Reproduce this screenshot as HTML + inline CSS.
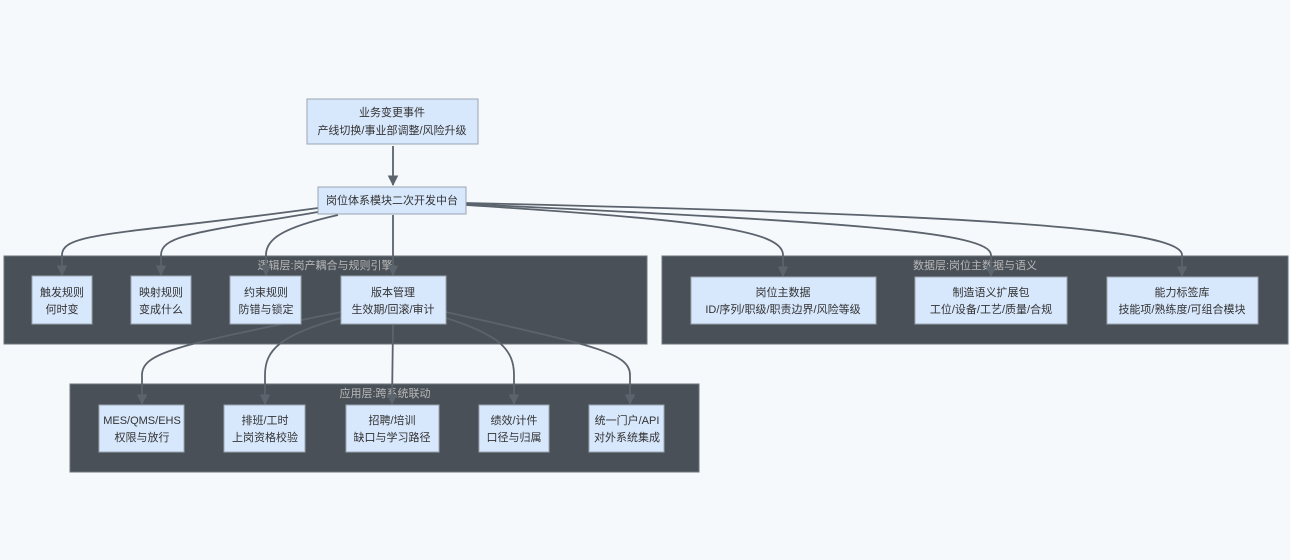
<!DOCTYPE html>
<html><head><meta charset="utf-8"><style>
html,body{margin:0;padding:0;background:#f6f9fc;}
svg{display:block;font-family:"Liberation Sans","Noto Sans CJK SC",sans-serif;}
.n{fill:#d7e7fc;stroke:#9aa6b2;stroke-width:1;}
.c{fill:#495057;stroke:#6c747c;stroke-width:1;}
.t{font-size:11px;fill:#333;text-anchor:middle;}
.ct{font-size:11px;fill:#b8b8b8;text-anchor:middle;}
.e{fill:none;stroke:#5b636d;stroke-width:1.8;}
</style></head><body>
<svg width="1290" height="560" viewBox="0 0 1290 560">
<defs><marker id="a" viewBox="0 0 10 10" refX="9" refY="5" markerWidth="6" markerHeight="6" orient="auto"><path d="M0,0L10,5L0,10z" fill="#5b636d"/></marker></defs>
<rect width="1290" height="560" fill="#f6f9fc"/>
<!-- clusters -->
<rect class="c" x="4" y="256" width="643" height="88"/>
<text class="ct" x="325" y="269">逻辑层:岗产耦合与规则引擎</text>
<rect class="c" x="662" y="256" width="626" height="88"/>
<text class="ct" x="975" y="269">数据层:岗位主数据与语义</text>
<rect class="c" x="70" y="384" width="629" height="88"/>
<text class="ct" x="385" y="397">应用层:跨系统联动</text>
<!-- edges -->
<path class="e" marker-end="url(#a)" d="M393,146 L393,185"/>
<path class="e" marker-end="url(#a)" d="M318,208 C120,235 62,232 62,255 L62,275"/>
<path class="e" marker-end="url(#a)" d="M318,212 C200,232 161,235 161,255 L161,275"/>
<path class="e" marker-end="url(#a)" d="M338,215 C280,228 266,240 266,255 L266,275"/>
<path class="e" marker-end="url(#a)" d="M393,215 L393,275"/>
<path class="e" marker-end="url(#a)" d="M466,205 C700,220 783,230 783,255 L783,276"/>
<path class="e" marker-end="url(#a)" d="M466,204 C850,222 991,232 991,255 L991,276"/>
<path class="e" marker-end="url(#a)" d="M466,203 C1000,215 1182,230 1182,255 L1182,276"/>
<path class="e" marker-end="url(#a)" d="M341,312 C180,345 142,352 142,375 L142,404"/>
<path class="e" marker-end="url(#a)" d="M341,318 C280,335 265,350 265,375 L265,404"/>
<path class="e" marker-end="url(#a)" d="M393,325 L392,404"/>
<path class="e" marker-end="url(#a)" d="M446,318 C500,335 514,350 514,375 L514,404"/>
<path class="e" marker-end="url(#a)" d="M446,312 C590,345 630,352 630,375 L630,404"/>
<!-- nodes -->
<rect class="n" x="307" y="99" width="171" height="45"/>
<text class="t" x="392" y="116">业务变更事件</text><text class="t" x="392" y="134">产线切换/事业部调整/风险升级</text>
<rect class="n" x="318" y="187" width="148" height="27"/>
<text class="t" x="392" y="204">岗位体系模块二次开发中台</text>
<rect class="n" x="32" y="276" width="60" height="48"/>
<text class="t" x="62" y="296">触发规则</text><text class="t" x="62" y="313">何时变</text>
<rect class="n" x="131" y="276" width="60" height="48"/>
<text class="t" x="161" y="296">映射规则</text><text class="t" x="161" y="313">变成什么</text>
<rect class="n" x="230" y="276" width="71" height="48"/>
<text class="t" x="266" y="296">约束规则</text><text class="t" x="266" y="313">防错与锁定</text>
<rect class="n" x="341" y="276" width="105" height="48"/>
<text class="t" x="393" y="296">版本管理</text><text class="t" x="393" y="313">生效期/回滚/审计</text>
<rect class="n" x="691" y="277" width="185" height="47"/>
<text class="t" x="783" y="296">岗位主数据</text><text class="t" x="783" y="313">ID/序列/职级/职责边界/风险等级</text>
<rect class="n" x="915" y="277" width="152" height="47"/>
<text class="t" x="991" y="296">制造语义扩展包</text><text class="t" x="991" y="313">工位/设备/工艺/质量/合规</text>
<rect class="n" x="1107" y="277" width="151" height="47"/>
<text class="t" x="1182" y="296">能力标签库</text><text class="t" x="1182" y="313">技能项/熟练度/可组合模块</text>
<rect class="n" x="99" y="405" width="85" height="47"/>
<text class="t" x="142" y="424">MES/QMS/EHS</text><text class="t" x="142" y="441">权限与放行</text>
<rect class="n" x="224" y="405" width="81" height="47"/>
<text class="t" x="265" y="424">排班/工时</text><text class="t" x="265" y="441">上岗资格校验</text>
<rect class="n" x="346" y="405" width="93" height="47"/>
<text class="t" x="392" y="424">招聘/培训</text><text class="t" x="392" y="441">缺口与学习路径</text>
<rect class="n" x="479" y="405" width="70" height="47"/>
<text class="t" x="514" y="424">绩效/计件</text><text class="t" x="514" y="441">口径与归属</text>
<rect class="n" x="589" y="405" width="75" height="47"/>
<text class="t" x="627" y="424">统一门户/API</text><text class="t" x="627" y="441">对外系统集成</text>
</svg>
</body></html>
